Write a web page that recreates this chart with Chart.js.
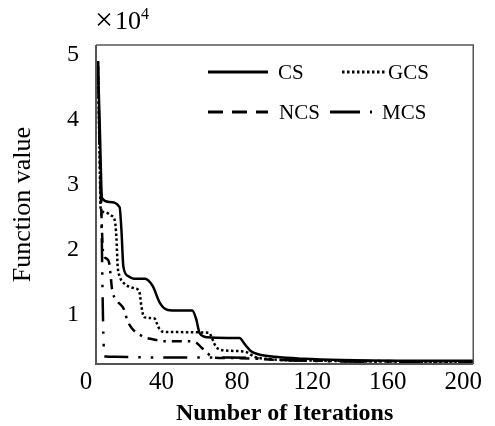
<!DOCTYPE html>
<html>
<head>
<meta charset="utf-8">
<script src="https://cdn.jsdelivr.net/npm/chart.js@4/dist/chart.umd.min.js"></script>
<style>
  html, body { margin: 0; padding: 0; background: #fff; }
  #wrap { width: 495px; height: 426px; position: relative; }
</style>
</head>
<body>
<div id="wrap"><canvas id="c" width="495" height="426"></canvas></div>
<script>
// ---- data (function value in units of 1e4) ----
const seriesLabels = ['CS', 'GCS', 'NCS', 'MCS'];

const iterCS = [1, 2, 3.2, 7, 12.5, 13.5, 14.5, 17, 20, 26, 30, 34, 38, 44, 51, 53, 55, 59, 70, 76, 79, 82, 86, 95, 110, 130, 160, 200];
const valCS  = [4.9, 3.9, 2.8, 2.74, 2.66, 2.3, 1.75, 1.6, 1.56, 1.56, 1.45, 1.18, 1.08, 1.07, 1.07, 0.95, 0.72, 0.66, 0.65, 0.65, 0.55, 0.45, 0.4, 0.36, 0.33, 0.31, 0.30, 0.30];

const iterGCS = [1, 1.8, 2.5, 5, 8, 10, 10.8, 11.5, 12.5, 14.5, 20.6, 23, 24, 25.5, 31, 33, 35, 40, 60, 61, 63.5, 68, 79, 84, 90, 120, 200];
const valGCS  = [4.9, 3.6, 2.64, 2.58, 2.53, 2.45, 2.2, 1.75, 1.6, 1.5, 1.41, 1.36, 1.15, 0.97, 0.95, 0.82, 0.75, 0.74, 0.73, 0.68, 0.52, 0.46, 0.44, 0.36, 0.33, 0.30, 0.28];

const iterNCS = [1, 2, 3.3, 3.8, 5.5, 7, 7.8, 8.5, 11, 15, 16.5, 19, 25, 30, 36, 48, 53, 56, 59, 62, 75, 100, 200];
const valNCS  = [4.9, 3.5, 2.2, 1.95, 1.87, 1.8, 1.6, 1.4, 1.23, 1.08, 0.93, 0.8, 0.67, 0.63, 0.6, 0.6, 0.58, 0.5, 0.42, 0.35, 0.34, 0.31, 0.29];

const iterMCS = [1, 2, 3, 3.5, 3.9, 4.4, 10, 30, 50, 70, 85, 100, 130, 200];
const valMCS  = [4.9, 3.5, 2.3, 1.3, 0.7, 0.37, 0.36, 0.35, 0.35, 0.35, 0.34, 0.31, 0.29, 0.28];

const xTicks = [0, 40, 80, 120, 160, 200];
const yTicks = [1, 2, 3, 4, 5];

const FONT = '"Liberation Serif", "Times New Roman", serif';

function pts(xs, ys) { return xs.map((x, i) => ({ x: x, y: ys[i] })); }

// legend sample styles (as drawn in the reference legend)
const legendSpec = [
  { x1: 208, x2: 268, y: 72,  dash: [],       tx: 278 },
  { x1: 342, x2: 387, y: 72,  dash: [2.5, 2.5], tx: 388 },
  { x1: 208, x2: 268, y: 112, dash: [15, 9],  tx: 279 },
  { x1: 330, x2: 372, y: 112, dash: [30, 10, 2.5, 20], tx: 382 }
];

const framePlugin = {
  id: 'frame',
  afterDatasetsDraw(chart) {
    const { ctx, chartArea: a } = chart;
    ctx.save();
    ctx.strokeStyle = '#555';
    ctx.lineWidth = 1.5;
    ctx.beginPath();
    ctx.moveTo(a.left, a.top); ctx.lineTo(a.right, a.top); ctx.lineTo(a.right, a.bottom);
    ctx.stroke();
    ctx.lineWidth = 2;
    ctx.beginPath();
    ctx.moveTo(a.left, a.top); ctx.lineTo(a.left, a.bottom); ctx.lineTo(a.right, a.bottom);
    ctx.stroke();
    // exponent label
    ctx.fillStyle = '#000';
    ctx.textBaseline = 'alphabetic';
    ctx.textAlign = 'left';
    ctx.font = '32px ' + FONT;
    ctx.fillText('\u00D7', 95, 30);
    const w1 = ctx.measureText('\u00D7').width;
    ctx.font = '26px ' + FONT;
    ctx.fillText('10', 95 + w1 + 2, 29);
    const w2 = ctx.measureText('10').width;
    ctx.font = '16px ' + FONT;
    ctx.fillText('4', 95 + w1 + 2 + w2, 19);
    // legend
    chart.data.datasets.forEach((ds, i) => {
      const s = legendSpec[i];
      ctx.strokeStyle = '#000';
      ctx.lineWidth = 3;
      ctx.setLineDash(s.dash);
      ctx.beginPath();
      ctx.moveTo(s.x1, s.y); ctx.lineTo(s.x2, s.y);
      ctx.stroke();
      ctx.setLineDash([]);
      ctx.font = '21px ' + FONT;
      ctx.textBaseline = 'middle';
      ctx.fillText(ds.label, s.tx, s.y + 1);
    });
    ctx.restore();
  }
};

const common = { pointRadius: 0, borderWidth: 2.5, borderColor: '#000', fill: false, cubicInterpolationMode: 'monotone' };

new Chart(document.getElementById('c'), {
  type: 'line',
  data: {
    datasets: [
      Object.assign({ label: seriesLabels[0], data: pts(iterCS, valCS), borderDash: [] }, common),
      Object.assign({ label: seriesLabels[1], data: pts(iterGCS, valGCS), borderDash: [2.5, 2.5] }, common),
      Object.assign({ label: seriesLabels[2], data: pts(iterNCS, valNCS), borderDash: [10, 6, 2.5, 6] }, common),
      Object.assign({ label: seriesLabels[3], data: pts(iterMCS, valMCS), borderDash: [24, 10, 2.5, 10, 2.5, 10] }, common)
    ]
  },
  options: {
    responsive: false,
    animation: false,
    layout: { padding: { left: 0, right: 18, top: 45, bottom: 0 } },
    plugins: { legend: { display: false }, tooltip: { enabled: false } },
    scales: {
      x: {
        type: 'linear', min: 0, max: 200,
        afterBuildTicks(scale) { scale.ticks = xTicks.map(v => ({ value: v })); },
        afterFit(scale) { scale.height = 62; },
        grid: { display: false, drawTicks: false },
        border: { display: false },
        ticks: { color: '#000', font: { family: FONT, size: 25 }, padding: 3, maxRotation: 0, labelOffset: -10 },
        title: { display: true, text: 'Number of Iterations', color: '#000',
                 font: { family: FONT, size: 24, weight: 'bold', lineHeight: 1 }, padding: { top: 0, bottom: 0 } }
      },
      y: {
        type: 'linear', min: 0.25, max: 5.15,
        afterBuildTicks(scale) { scale.ticks = yTicks.map(v => ({ value: v })); },
        afterFit(scale) { scale.width = 96; },
        grid: { display: false, drawTicks: false },
        border: { display: false },
        ticks: { color: '#000', font: { family: FONT, size: 24 }, padding: 17 },
        title: { display: true, text: 'Function value', color: '#000',
                 font: { family: FONT, size: 26, lineHeight: 1.2 }, padding: { top: 8, bottom: 0 } }
      }
    }
  },
  plugins: [framePlugin]
});
</script>
</body>
</html>
